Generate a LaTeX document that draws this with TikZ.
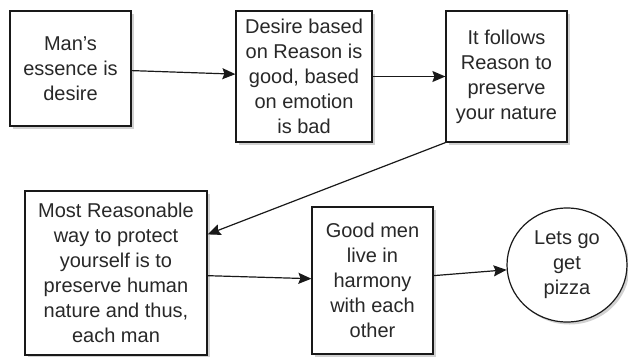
\documentclass[tikz,border=0pt]{standalone}
\usepackage{fontspec}
\setmainfont{Liberation Sans}
\usetikzlibrary{arrows.meta,shadows,calc,shapes.geometric}
\definecolor{txt}{RGB}{40,40,40}
\definecolor{edge}{RGB}{25,25,25}
\tikzset{
  sh/.style={drop shadow={shadow xshift=2.5pt,shadow yshift=-2.5pt,opacity=0.3,fill=black!60}},
  box/.style={draw=edge,line width=1.2pt,fill=white,sh,rectangle,inner sep=0pt,align=center,
    text=txt,font=\fontsize{20}{25}\selectfont},
  bubble/.style={draw=edge,line width=1.2pt,fill=white,sh,ellipse,inner sep=0pt,align=center,
    text=txt,font=\fontsize{20}{25}\selectfont},
  conn/.style={draw=edge,line width=1.2pt,-{Stealth[length=13pt,width=11pt,inset=2pt]}}
}
\begin{document}
\begin{tikzpicture}[x=1pt,y=-1pt]
\useasboundingbox (0,0) rectangle (628,356);
\node[box,minimum width=121pt,minimum height=115pt] (b1) at (70.5,68.5) {Man{\char"27}s\\essence is\\desire};
\node[box,minimum width=136pt,minimum height=131pt] (b2) at (304,76.5) {Desire based\\on Reason is\\good, based\\on emotion\\is bad};
\node[box,minimum width=121pt,minimum height=131pt] (b3) at (506.5,76.5) {It follows\\Reason to\\preserve\\your nature};
\node[box,minimum width=182pt,minimum height=164pt] (b4) at (116,273) {Most Reasonable\\way to protect\\yourself is to\\preserve human\\nature and thus,\\each man};
\node[box,minimum width=121pt,minimum height=147pt] (b5) at (372.5,280.5) {Good men\\live in\\harmony\\with each\\other};
\node[bubble,minimum width=120pt,minimum height=114pt] (c1) at (567,265) {Lets go\\get\\pizza};
\coordinate (t4) at ($(b4.north east)+(0,44)$);
\draw[conn] (b1) -- (b2);
\draw[conn] (b2) -- (b3);
\draw[conn] (b3.south west) -- (t4);
\draw[conn] (b4) -- (b5);
\draw[conn] (b5) -- (c1);
\end{tikzpicture}
\end{document}
